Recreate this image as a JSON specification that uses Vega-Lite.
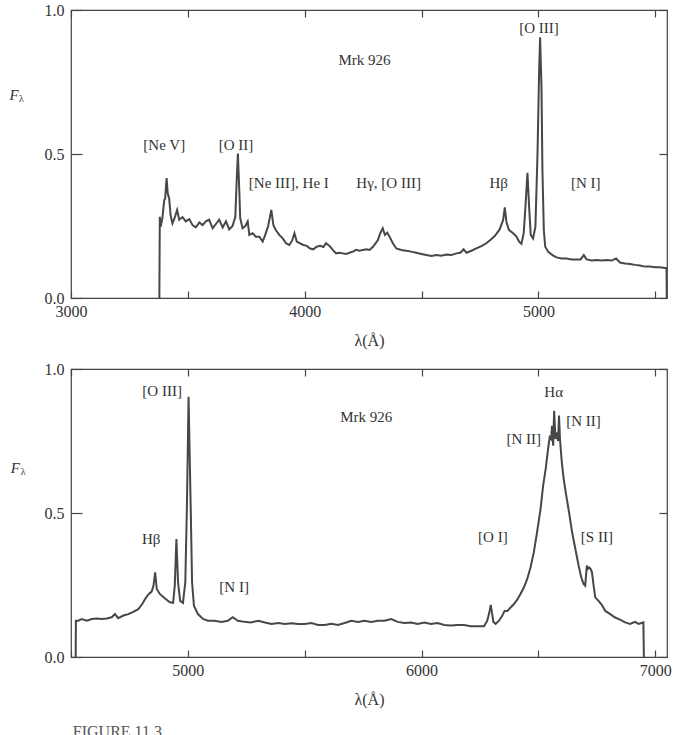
{
  "$schema": "https://vega.github.io/schema/vega-lite/v6.json",
  "padding": {"top": 1, "left": 8, "right": 0, "bottom": 0},
  "spacing": 11,
  "title": {"text": "FIGURE 11.3", "orient": "bottom", "anchor": "start", "dx": 64, "offset": 16, "fontSize": 16, "font": "Liberation Serif", "fontWeight": "normal", "color": "#555"},
  "datasets": {
    "top": [
      {"w":3378,"f":0},{"w":3380,"f":0.282},{"w":3384,"f":0.248},{"w":3391,"f":0.277},{"w":3399,"f":0.340},{"w":3403,"f":0.346},{"w":3409,"f":0.416},{"w":3414,"f":0.363},{"w":3420,"f":0.346},{"w":3426,"f":0.288},{"w":3434,"f":0.259},{"w":3443,"f":0.277},{"w":3454,"f":0.306},{"w":3463,"f":0.272},{"w":3477,"f":0.281},{"w":3491,"f":0.266},{"w":3506,"f":0.274},{"w":3520,"f":0.253},{"w":3534,"f":0.245},{"w":3549,"f":0.262},{"w":3563,"f":0.253},{"w":3577,"f":0.266},{"w":3591,"f":0.272},{"w":3606,"f":0.242},{"w":3620,"f":0.257},{"w":3634,"f":0.272},{"w":3649,"f":0.245},{"w":3663,"f":0.266},{"w":3677,"f":0.238},{"w":3691,"f":0.250},{"w":3703,"f":0.282},{"w":3709,"f":0.410},{"w":3714,"f":0.502},{"w":3720,"f":0.375},{"w":3724,"f":0.277},{"w":3734,"f":0.242},{"w":3746,"f":0.250},{"w":3756,"f":0.266},{"w":3763,"f":0.219},{"w":3777,"f":0.225},{"w":3791,"f":0.213},{"w":3806,"f":0.213},{"w":3820,"f":0.196},{"w":3831,"f":0.219},{"w":3843,"f":0.248},{"w":3857,"f":0.306},{"w":3866,"f":0.253},{"w":3877,"f":0.235},{"w":3891,"f":0.219},{"w":3906,"f":0.207},{"w":3920,"f":0.190},{"w":3934,"f":0.184},{"w":3946,"f":0.199},{"w":3956,"f":0.225},{"w":3966,"f":0.196},{"w":3980,"f":0.190},{"w":3994,"f":0.184},{"w":4009,"f":0.181},{"w":4023,"f":0.172},{"w":4037,"f":0.169},{"w":4051,"f":0.178},{"w":4066,"f":0.181},{"w":4080,"f":0.177},{"w":4091,"f":0.190},{"w":4106,"f":0.181},
      {"w":4120,"f":0.167},{"w":4134,"f":0.155},{"w":4149,"f":0.157},{"w":4163,"f":0.155},{"w":4177,"f":0.153},{"w":4192,"f":0.157},{"w":4206,"f":0.161},{"w":4220,"f":0.167},{"w":4234,"f":0.164},{"w":4249,"f":0.167},{"w":4263,"f":0.169},{"w":4277,"f":0.167},{"w":4292,"f":0.178},{"w":4303,"f":0.190},{"w":4313,"f":0.201},{"w":4323,"f":0.225},{"w":4334,"f":0.242},{"w":4343,"f":0.219},{"w":4353,"f":0.227},{"w":4363,"f":0.213},{"w":4377,"f":0.190},{"w":4392,"f":0.172},{"w":4413,"f":0.167},{"w":4434,"f":0.164},{"w":4456,"f":0.161},{"w":4477,"f":0.157},{"w":4499,"f":0.153},{"w":4520,"f":0.149},{"w":4542,"f":0.146},{"w":4563,"f":0.149},{"w":4584,"f":0.147},{"w":4606,"f":0.151},{"w":4627,"f":0.149},{"w":4649,"f":0.155},{"w":4666,"f":0.157},{"w":4680,"f":0.169},{"w":4692,"f":0.157},{"w":4713,"f":0.164},{"w":4734,"f":0.172},{"w":4756,"f":0.180},{"w":4777,"f":0.190},
      {"w":4799,"f":0.205},{"w":4813,"f":0.215},{"w":4834,"f":0.238},{"w":4849,"f":0.271},{"w":4856,"f":0.315},{"w":4863,"f":0.264},{"w":4874,"f":0.236},{"w":4892,"f":0.225},{"w":4906,"f":0.213},{"w":4917,"f":0.196},{"w":4927,"f":0.188},{"w":4937,"f":0.225},{"w":4946,"f":0.340},{"w":4953,"f":0.435},{"w":4960,"f":0.317},{"w":4967,"f":0.219},{"w":4977,"f":0.207},{"w":4987,"f":0.248},{"w":4996,"f":0.502},{"w":5003,"f":0.792},{"w":5007,"f":0.905},{"w":5013,"f":0.734},{"w":5017,"f":0.444},{"w":5023,"f":0.236},{"w":5029,"f":0.178},{"w":5042,"f":0.160},{"w":5060,"f":0.149},{"w":5077,"f":0.141},{"w":5099,"f":0.137},{"w":5120,"f":0.137},{"w":5142,"f":0.134},{"w":5163,"f":0.134},{"w":5180,"f":0.134},{"w":5194,"f":0.149},{"w":5206,"f":0.134},{"w":5227,"f":0.130},{"w":5249,"f":0.132},{"w":5270,"f":0.130},{"w":5292,"f":0.132},{"w":5313,"f":0.130},{"w":5332,"f":0.137},{"w":5349,"f":0.123},{"w":5370,"f":0.120},{"w":5392,"f":0.118},{"w":5413,"f":0.115},{"w":5434,"f":0.113},{"w":5456,"f":0.109},{"w":5477,"f":0.109},{"w":5499,"f":0.107},{"w":5520,"f":0.107},{"w":5542,"f":0.104},{"w":5548,"f":0.104},{"w":5549,"f":0}
    ],
    "bottom": [
      {"w":4520,"f":0},{"w":4521,"f":0.126},{"w":4532,"f":0.126},{"w":4546,"f":0.132},{"w":4568,"f":0.126},{"w":4589,"f":0.132},{"w":4610,"f":0.134},{"w":4631,"f":0.132},{"w":4653,"f":0.134},{"w":4674,"f":0.138},{"w":4688,"f":0.149},{"w":4702,"f":0.135},{"w":4724,"f":0.144},{"w":4745,"f":0.149},{"w":4766,"f":0.157},{"w":4788,"f":0.166},{"w":4805,"f":0.184},{"w":4819,"f":0.204},{"w":4833,"f":0.219},{"w":4845,"f":0.227},{"w":4853,"f":0.248},{"w":4860,"f":0.294},{"w":4867,"f":0.236},{"w":4880,"f":0.219},{"w":4901,"f":0.204},{"w":4923,"f":0.190},{"w":4937,"f":0.188},{"w":4944,"f":0.248},{"w":4951,"f":0.410},{"w":4958,"f":0.259},{"w":4967,"f":0.195},{"w":4979,"f":0.188},{"w":4989,"f":0.259},{"w":4996,"f":0.525},{"w":5003,"f":0.904},{"w":5012,"f":0.525},{"w":5018,"f":0.259},{"w":5026,"f":0.178},{"w":5043,"f":0.149},{"w":5065,"f":0.132},{"w":5086,"f":0.126},{"w":5114,"f":0.126},{"w":5143,"f":0.122},{"w":5171,"f":0.126},{"w":5192,"f":0.138},{"w":5214,"f":0.126},{"w":5242,"f":0.122},{"w":5270,"f":0.120},
      {"w":5302,"f":0.126},{"w":5330,"f":0.120},{"w":5358,"f":0.115},{"w":5387,"f":0.118},{"w":5415,"f":0.115},{"w":5443,"f":0.117},{"w":5472,"f":0.115},{"w":5500,"f":0.115},{"w":5529,"f":0.118},{"w":5557,"f":0.111},{"w":5586,"f":0.111},{"w":5614,"f":0.115},{"w":5642,"f":0.111},{"w":5671,"f":0.118},{"w":5699,"f":0.126},{"w":5728,"f":0.122},{"w":5756,"f":0.126},{"w":5784,"f":0.122},{"w":5813,"f":0.126},{"w":5841,"f":0.126},{"w":5870,"f":0.132},{"w":5898,"f":0.122},{"w":5926,"f":0.118},{"w":5955,"f":0.120},{"w":5983,"f":0.115},{"w":6012,"f":0.120},{"w":6040,"f":0.115},{"w":6068,"f":0.118},{"w":6097,"f":0.111},{"w":6125,"f":0.109},{"w":6154,"f":0.111},{"w":6182,"f":0.111},
      {"w":6210,"f":0.107},{"w":6239,"f":0.107},{"w":6267,"f":0.107},{"w":6281,"f":0.126},{"w":6290,"f":0.155},{"w":6296,"f":0.181},{"w":6301,"f":0.155},{"w":6307,"f":0.122},{"w":6317,"f":0.115},{"w":6331,"f":0.126},{"w":6345,"f":0.143},{"w":6355,"f":0.160},{"w":6367,"f":0.160},{"w":6381,"f":0.172},{"w":6395,"f":0.184},{"w":6409,"f":0.199},{"w":6423,"f":0.219},{"w":6438,"f":0.242},{"w":6452,"f":0.271},{"w":6466,"f":0.311},{"w":6480,"f":0.363},{"w":6494,"f":0.433},{"w":6509,"f":0.514},{"w":6520,"f":0.595},{"w":6531,"f":0.653},{"w":6541,"f":0.722},{"w":6548,"f":0.763},{"w":6554,"f":0.757},{"w":6558,"f":0.803},{"w":6563,"f":0.734},{"w":6567,"f":0.855},{"w":6573,"f":0.757},{"w":6578,"f":0.780},{"w":6584,"f":0.750},{"w":6588,"f":0.838},{"w":6592,"f":0.757},{"w":6600,"f":0.676},{"w":6608,"f":0.618},{"w":6619,"f":0.560},{"w":6631,"f":0.502},{"w":6644,"f":0.433},{"w":6658,"f":0.375},{"w":6672,"f":0.317},{"w":6683,"f":0.277},{"w":6693,"f":0.254},{"w":6700,"f":0.248},{"w":6707,"f":0.317},{"w":6712,"f":0.306},{"w":6717,"f":0.311},{"w":6723,"f":0.306},{"w":6729,"f":0.294},{"w":6736,"f":0.248},{"w":6743,"f":0.207},{"w":6757,"f":0.195},{"w":6771,"f":0.181},{"w":6786,"f":0.160},{"w":6807,"f":0.149},{"w":6828,"f":0.137},{"w":6849,"f":0.130},{"w":6871,"f":0.120},{"w":6892,"f":0.115},{"w":6913,"f":0.122},{"w":6928,"f":0.115},{"w":6949,"f":0.120},{"w":6951,"f":0}
    ],
    "topLabels": [
      {"w":4256,"f":0.826,"label":"Mrk 926"},
      {"w":5002,"f":0.936,"label":"[O III]"},
      {"w":3399,"f":0.531,"label":"[Ne V]"},
      {"w":3706,"f":0.531,"label":"[O II]"},
      {"w":3932,"f":0.399,"label":"[Ne III], He I"},
      {"w":4359,"f":0.400,"label":"Hγ, [O III]"},
      {"w":4830,"f":0.400,"label":"Hβ"},
      {"w":5202,"f":0.400,"label":"[N I]"}
    ],
    "bottomLabels": [
      {"w":4890,"f":0.925,"label":"[O III]"},
      {"w":5763,"f":0.832,"label":"Mrk 926"},
      {"w":4843,"f":0.410,"label":"Hβ"},
      {"w":5198,"f":0.242,"label":"[N I]"},
      {"w":6565,"f":0.921,"label":"Hα"},
      {"w":6693,"f":0.820,"label":"[N II]"},
      {"w":6437,"f":0.757,"label":"[N II]"},
      {"w":6305,"f":0.416,"label":"[O I]"},
      {"w":6750,"f":0.416,"label":"[S II]"}
    ],
    "topF": [{"w":2756,"f":0.705,"label":"F"}],
    "topSub": [{"w":2788,"f":0.692,"label":"λ"}],
    "bottomF": [{"w":4262,"f":0.656,"label":"F"}],
    "bottomSub": [{"w":4295,"f":0.643,"label":"λ"}]
  },
  "vconcat": [
    {
      "width": 596,
      "height": 288,
      "layer": [
        {
          "data": {"name": "top"},
          "mark": {"type": "line", "color": "#474747", "strokeWidth": 2, "clip": true},
          "encoding": {
            "x": {"field": "w", "type": "quantitative", "scale": {"domain": [3000, 5550], "nice": false, "zero": false},
                  "axis": {"orient": "bottom", "values": [3000, 3500, 4000, 4500, 5000, 5500], "format": "d", "labelExpr": "datum.value % 1000 === 0 ? datum.label : ''", "tickSize": -7, "labelPadding": 12, "title": "λ(Å)", "titlePadding": 13, "labelFlush": false}},
            "y": {"field": "f", "type": "quantitative", "scale": {"domain": [0, 1], "nice": false},
                  "axis": {"orient": "left", "values": [0, 0.5, 1], "format": ".1f", "tickSize": -11, "labelPadding": 18, "title": null}}
          }
        },
        {
          "data": {"name": "topLabels"},
          "mark": {"type": "text", "fontSize": 15, "color": "#333", "align": "center", "baseline": "middle"},
          "encoding": {
            "x": {"field": "w", "type": "quantitative", "axis": {"orient": "top", "values": [3000, 3500, 4000, 4500, 5000, 5500], "labels": false, "tickSize": -7, "title": null}},
            "y": {"field": "f", "type": "quantitative", "axis": {"orient": "right", "values": [0, 0.5, 1], "labels": false, "tickSize": -8, "title": null}},
            "text": {"field": "label"}
          }
        },
        {
          "data": {"name": "topF"},
          "mark": {"type": "text", "fontSize": 15, "fontStyle": "italic", "color": "#333", "align": "center", "baseline": "middle"},
          "encoding": {
            "x": {"field": "w", "type": "quantitative", "axis": null},
            "y": {"field": "f", "type": "quantitative", "axis": null},
            "text": {"field": "label"}
          }
        },
        {
          "data": {"name": "topSub"},
          "mark": {"type": "text", "fontSize": 10, "color": "#333", "align": "center", "baseline": "middle"},
          "encoding": {
            "x": {"field": "w", "type": "quantitative", "axis": null},
            "y": {"field": "f", "type": "quantitative", "axis": null},
            "text": {"field": "label"}
          }
        }
      ],
      "resolve": {"axis": {"x": "independent", "y": "independent"}}
    },
    {
      "width": 596,
      "height": 288,
      "layer": [
        {
          "data": {"name": "bottom"},
          "mark": {"type": "line", "color": "#474747", "strokeWidth": 2, "clip": true},
          "encoding": {
            "x": {"field": "w", "type": "quantitative", "scale": {"domain": [4500, 7050], "nice": false, "zero": false},
                  "axis": {"orient": "bottom", "values": [4500, 5000, 5500, 6000, 6500, 7000], "format": "d", "labelExpr": "datum.value % 1000 === 0 ? datum.label : ''", "tickSize": -7, "labelPadding": 12, "title": "λ(Å)", "titlePadding": 13, "labelFlush": false}},
            "y": {"field": "f", "type": "quantitative", "scale": {"domain": [0, 1], "nice": false},
                  "axis": {"orient": "left", "values": [0, 0.5, 1], "format": ".1f", "tickSize": -11, "labelPadding": 18, "title": null}}
          }
        },
        {
          "data": {"name": "bottomLabels"},
          "mark": {"type": "text", "fontSize": 15, "color": "#333", "align": "center", "baseline": "middle"},
          "encoding": {
            "x": {"field": "w", "type": "quantitative", "axis": {"orient": "top", "values": [4500, 5000, 5500, 6000, 6500, 7000], "labels": false, "tickSize": -7, "title": null}},
            "y": {"field": "f", "type": "quantitative", "axis": {"orient": "right", "values": [0, 0.5, 1], "labels": false, "tickSize": -8, "title": null}},
            "text": {"field": "label"}
          }
        },
        {
          "data": {"name": "bottomF"},
          "mark": {"type": "text", "fontSize": 15, "fontStyle": "italic", "color": "#333", "align": "center", "baseline": "middle"},
          "encoding": {
            "x": {"field": "w", "type": "quantitative", "axis": null},
            "y": {"field": "f", "type": "quantitative", "axis": null},
            "text": {"field": "label"}
          }
        },
        {
          "data": {"name": "bottomSub"},
          "mark": {"type": "text", "fontSize": 10, "color": "#333", "align": "center", "baseline": "middle"},
          "encoding": {
            "x": {"field": "w", "type": "quantitative", "axis": null},
            "y": {"field": "f", "type": "quantitative", "axis": null},
            "text": {"field": "label"}
          }
        }
      ],
      "resolve": {"axis": {"x": "independent", "y": "independent"}}
    }
  ],
  "config": {
    "font": "Liberation Serif",
    "view": {"stroke": "#444", "strokeWidth": 1.2},
    "axis": {"domain": false, "grid": false, "tickColor": "#444", "tickWidth": 1.2, "labelColor": "#333", "labelFontSize": 16, "titleFontSize": 16, "titleFontWeight": "normal", "titleColor": "#333", "labelFont": "Liberation Serif", "titleFont": "Liberation Serif"}
  }
}
